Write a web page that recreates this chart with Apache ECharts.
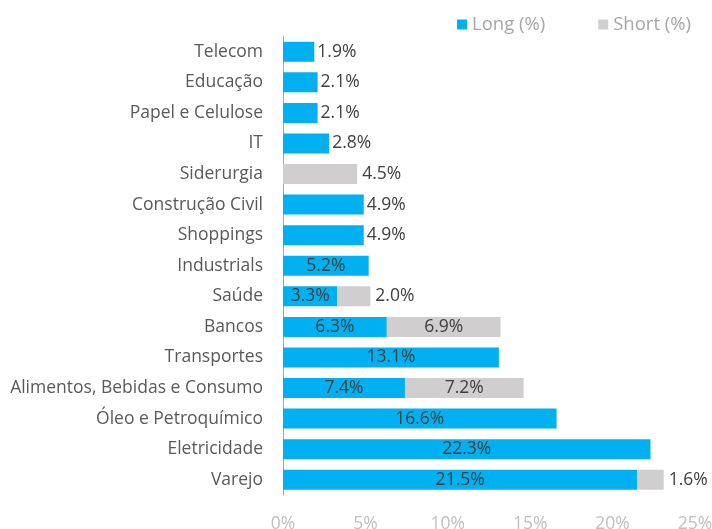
<!DOCTYPE html>
<html><head><meta charset="utf-8">
<script src="https://cdn.jsdelivr.net/npm/echarts@6/dist/echarts.min.js"></script>
<style>html,body{margin:0;padding:0;background:#fff}#c{width:712px;height:529px}</style>
</head><body><div id="c"></div>
<script>
const categories = ["Telecom","Educação","Papel e Celulose","IT","Siderurgia","Construção Civil","Shoppings","Industrials","Saúde","Bancos","Transportes","Alimentos, Bebidas e Consumo","Óleo e Petroquímico","Eletricidade","Varejo"];
const longVals  = [1.9,2.1,2.1,2.8,null,4.9,4.9,5.2,3.3,6.3,13.1,7.4,16.6,22.3,21.5];
const shortVals = [null,null,null,null,4.5,null,null,null,2.0,6.9,null,7.2,null,null,1.6];
const xTicks = [0,5,10,15,20,25];

const FONT = "'Open Sans', 'Noto Sans', sans-serif";
const BLUE = '#00B0F0', GREY = '#D0CECE';
const lblBase = {show:true, color:'#404040', fontSize:17.5, fontFamily:FONT, formatter: p => p.value.toFixed(1)+'%'};

const longData = longVals.map((v,i) => {
  if (v == null) return null;
  const inside = v >= 5 || shortVals[i] != null;
  return {value:v, label: inside ? {position:'inside'} : {position:'right', distance:3}};
});
const shortData = shortVals.map(v => {
  if (v == null) return null;
  return {value:v, label: v >= 5 ? {position:'inside'} : {position:'right', distance:5}};
});

const chart = echarts.init(document.getElementById('c'));
chart.setOption({
  animation:false,
  legend:{
    right:16, top:10, itemWidth:10, itemHeight:10, itemGap:53, icon:'rect',
    textStyle:{color:'#A6A6A6', fontSize:18.5, fontFamily:FONT},
    data:['Long (%)','Short (%)']
  },
  grid:{left:283, right:17, top:36.5, bottom:34, containLabel:false, outerBoundsMode:'none'},
  xAxis:{
    type:'value', min:0, max:25, interval:5,
    axisLine:{show:false}, axisTick:{show:false}, splitLine:{show:false},
    axisLabel:{color:'#BFBFBF', fontSize:17.5, fontFamily:FONT, margin:20, formatter: v => v+'%'}
  },
  yAxis:{
    type:'category', inverse:true, data:categories,
    axisLine:{show:true, lineStyle:{color:'#A6A6A6', width:1}},
    axisTick:{show:false},
    axisLabel:{color:'#595959', fontSize:17.5, fontFamily:FONT, margin:20}
  },
  series:[
    {name:'Long (%)', type:'bar', stack:'t', barWidth:20, itemStyle:{color:BLUE}, label:lblBase, data:longData},
    {name:'Short (%)', type:'bar', stack:'t', barWidth:20, itemStyle:{color:GREY}, label:lblBase, data:shortData}
  ]
});
</script></body></html>
